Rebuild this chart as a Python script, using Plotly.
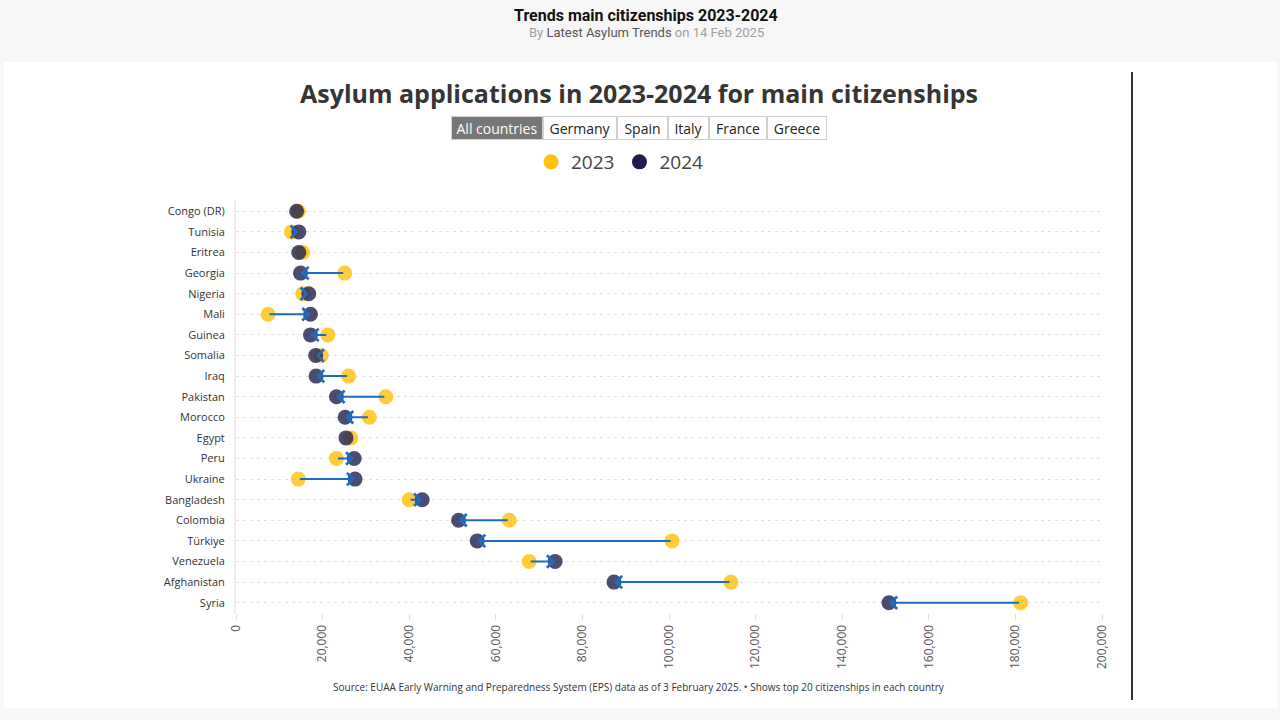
import plotly.graph_objects as go

countries = ["Congo (DR)", "Tunisia", "Eritrea", "Georgia", "Nigeria", "Mali", "Guinea",
             "Somalia", "Iraq", "Pakistan", "Morocco", "Egypt", "Peru", "Ukraine",
             "Bangladesh", "Colombia", "Türkiye", "Venezuela", "Afghanistan", "Syria"]
apps_2023 = [14400, 12800, 15400, 25100, 15400, 7400, 21200, 19700, 26000, 34600,
             30800, 26500, 23200, 14400, 40000, 63100, 100700, 67700, 114300, 181200]
apps_2024 = [14000, 14500, 14500, 14900, 16800, 17200, 17200, 18400, 18500, 23200,
             25200, 25400, 27300, 27500, 43000, 51400, 55700, 73700, 87300, 150800]
x_ticks = [0, 20000, 40000, 60000, 80000, 100000, 120000, 140000, 160000, 180000, 200000]
buttons = ["All countries", "Germany", "Spain", "Italy", "France", "Greece"]
years = ["2023", "2024"]

YELLOW = "#ffc20e"
NAVY = "#1f1f4d"
ARROW = "#1f6bc1"

# plot area in pixels
L, R, T, B = 236, 1102, 201, 613
W, H = 1280, 720


def px(x):
    return (x - L) / (R - L)


def py(y):
    return (B - y) / (B - T)


fig = go.Figure()

fig.add_trace(go.Scatter(x=apps_2023, y=countries, mode="markers", name=years[0],
                         marker=dict(color=YELLOW, size=15, opacity=0.82),
                         showlegend=False))
fig.add_trace(go.Scatter(x=apps_2024, y=countries, mode="markers", name=years[1],
                         marker=dict(color=NAVY, size=15, opacity=0.8),
                         showlegend=False))
# legend entries (full colour)
fig.add_trace(go.Scatter(x=[None], y=[None], mode="markers", name=years[0],
                         marker=dict(color=YELLOW, size=15)))
fig.add_trace(go.Scatter(x=[None], y=[None], mode="markers", name=years[1],
                         marker=dict(color=NAVY, size=15)))

annotations = []
for c, a, b in zip(countries, apps_2023, apps_2024):
    annotations.append(dict(x=b, y=c, ax=a, ay=c, xref="x", yref="y", axref="x", ayref="y",
                            text="", showarrow=True, arrowhead=4, arrowsize=1.2,
                            arrowwidth=2, arrowcolor=ARROW, standoff=0, startstandoff=0))

# header
annotations.append(dict(x=px(646), y=py(15), xref="paper", yref="paper",
                        text="<b>Trends main citizenships 2023-2024</b>", showarrow=False,
                        font=dict(family="Roboto", size=16, color="#111111"),
                        xanchor="center", yanchor="middle"))
annotations.append(dict(x=px(646), y=py(32), xref="paper", yref="paper",
                        text="By <span style='color:#555555'>Latest Asylum Trends</span> on 14 Feb 2025",
                        showarrow=False, font=dict(family="Roboto", size=13, color="#a0a0a0"),
                        xanchor="center", yanchor="middle"))
# main title
annotations.append(dict(x=px(639), y=py(93), xref="paper", yref="paper",
                        text="<b>Asylum applications in 2023-2024 for main citizenships</b>",
                        showarrow=False, font=dict(family="Open Sans", size=25, color="#353535"),
                        xanchor="center", yanchor="middle"))
# button bar
btn_edges = [451, 543, 617, 668, 709, 767, 827]
for i, lab in enumerate(buttons):
    x0, x1 = btn_edges[i], btn_edges[i + 1]
    active = i == 0
    annotations.append(dict(x=px((x0 + x1) / 2), y=py(128.5), xref="paper", yref="paper",
                            text=lab, showarrow=False, width=x1 - x0 - 4, height=20,
                            bgcolor="#777777" if active else "#ffffff",
                            bordercolor="#d0d0d0", borderwidth=1, borderpad=1,
                            font=dict(family="Open Sans", size=14,
                                      color="#ffffff" if active else "#222222"),
                            xanchor="center", yanchor="middle"))
# source
annotations.append(dict(x=px(639), y=py(687), xref="paper", yref="paper",
                        text="Source: EUAA Early Warning and Preparedness System (EPS) data as of 3 February 2025. • Shows top 20 citizenships in each country",
                        showarrow=False, font=dict(family="Open Sans", size=10, color="#333333"),
                        xanchor="center", yanchor="middle"))

shapes = [
    dict(type="rect", xref="paper", yref="paper", x0=px(4), x1=px(1277), y0=py(62), y1=py(708),
         fillcolor="#ffffff", line=dict(width=0), layer="below"),
    dict(type="line", xref="paper", yref="paper", x0=px(1132), x1=px(1132), y0=py(72), y1=py(700),
         line=dict(color="#333333", width=2)),
]

fig.update_layout(
    width=W, height=H,
    margin=dict(l=L, r=W - R, t=T, b=H - B, pad=0),
    paper_bgcolor="#f7f7f7",
    plot_bgcolor="#ffffff",
    font=dict(family="Open Sans", color="#444444"),
    showlegend=True,
    legend=dict(orientation="h", x=px(620), y=py(162), xanchor="center", yanchor="middle",
                font=dict(size=19, color="#444444"), bgcolor="rgba(0,0,0,0)",
                itemwidth=30, tracegroupgap=0),
    annotations=annotations,
    shapes=shapes,
    xaxis=dict(range=[0, 200000], tickvals=x_ticks, tickformat=",d", tickangle=-90,
               showgrid=False, zeroline=False, showline=False,
               ticks="outside", ticklen=6, tickcolor="#dddddd",
               tickfont=dict(family="Open Sans", size=12, color="#555555")),
    yaxis=dict(categoryorder="array", categoryarray=countries,
               range=[len(countries) - 0.5, -0.5], autorange=False,
               showgrid=True, gridcolor="#e0e0e0", griddash="3px,4px", gridwidth=1,
               showline=True, linecolor="#eeeeee", linewidth=2,
               ticks="", ticklabelstandoff=7,
               tickfont=dict(family="Open Sans", size=11, color="#333333")),
)

fig.write_html("out.html", config={"displayModeBar": False},
               post_script="document.body.style.margin='0';document.body.style.background='#f7f7f7';")
